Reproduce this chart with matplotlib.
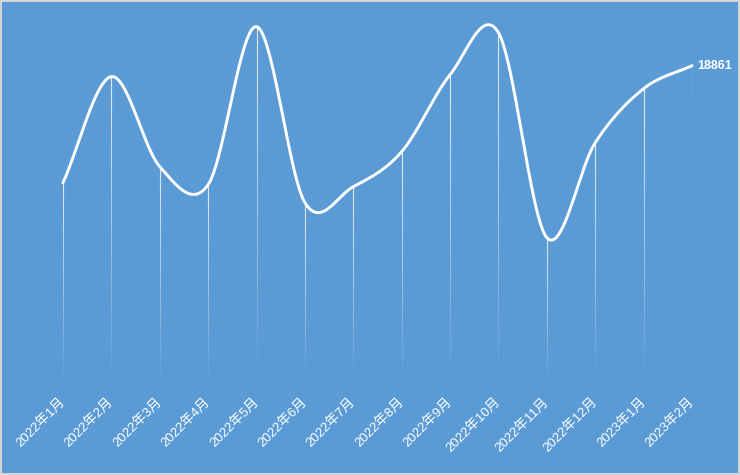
import matplotlib.pyplot as plt
import numpy as np
from matplotlib.collections import LineCollection

plt.rcParams['font.family'] = ['Liberation Sans', 'Noto Sans CJK SC', 'DejaVu Sans']

# months on the x axis
months = ["2022年1月", "2022年2月", "2022年3月", "2022年4月", "2022年5月", "2022年6月",
          "2022年7月", "2022年8月", "2022年9月", "2022年10月", "2022年11月", "2022年12月",
          "2023年1月", "2023年2月"]
# values (last one is labelled)
values = [11840, 18200, 12800, 11720, 21200, 10640, 11600,
          13700, 18320, 20840, 8540, 14240, 17480, 18861]

bg = "#5b9bd5"
W, H = 740, 475
fig = plt.figure(figsize=(W / 100, H / 100), dpi=100)
fig.patch.set_facecolor(bg)
fig.patch.set_edgecolor("#d4d4d4")
fig.patch.set_linewidth(1.5)

# plot area in pixels
left, right, bottom, top = 63, 692, 380, 20
ax = fig.add_axes([left / W, 1 - bottom / H, (right - left) / W, (bottom - top) / H])
ax.set_facecolor(bg)
ax.set_xlim(0, len(months) - 1)
ax.set_ylim(0, (bottom - top) * 60)
ax.axis("off")

x = np.arange(len(months))
y = np.array(values, dtype=float)

# cubic hermite through the points, finite-difference tangents
m = np.gradient(y)
t = np.linspace(0, 1, 50)
h00 = 2 * t**3 - 3 * t**2 + 1
h10 = t**3 - 2 * t**2 + t
h01 = -2 * t**3 + 3 * t**2
h11 = t**3 - t**2
cx, cy = [], []
for i in range(len(x) - 1):
    cx.append(x[i] + t)
    cy.append(h00 * y[i] + h10 * m[i] + h01 * y[i + 1] + h11 * m[i + 1])
cx = np.concatenate(cx)
cy = np.concatenate(cy)

# fading drop lines
for xi, yi in zip(x, y):
    ys = np.linspace(0, yi, 60)
    segs = [[(xi, ys[k]), (xi, ys[k + 1])] for k in range(len(ys) - 1)]
    alphas = 0.85 * (ys[1:] / yi)
    cols = [(1, 1, 1, a) for a in alphas]
    ax.add_collection(LineCollection(segs, colors=cols, linewidths=0.8))

ax.plot(cx, cy, color="white", lw=2.1, solid_capstyle="round", clip_on=False)

ax.annotate(str(values[-1]), (x[-1], y[-1]), xytext=(4, 0), textcoords="offset points",
            color="white", fontsize=9, fontweight="bold", va="center", ha="left")

# rotated month labels
for xi, lab in zip(x, months):
    ax.annotate(lab, (xi, 0), xytext=(0, -14.5), textcoords="offset points",
                color="white", fontsize=9.5, rotation=45, ha="right", va="center",
                rotation_mode="anchor", annotation_clip=False)

fig.savefig("out.png", dpi=100, facecolor=bg, edgecolor=fig.get_edgecolor())
